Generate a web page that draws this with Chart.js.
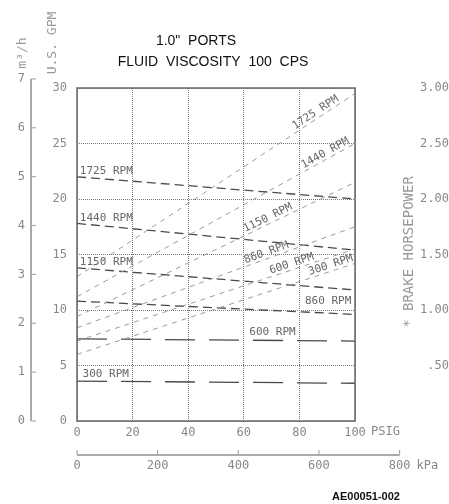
<!DOCTYPE html>
<html>
<head>
<meta charset="utf-8">
<script src="https://cdn.jsdelivr.net/npm/chart.js@4.4.1/dist/chart.umd.min.js"></script>
<style>
  html, body { margin: 0; padding: 0; background: #fff; }
  canvas { display: block; }
</style>
</head>
<body>
<canvas id="pumpChart" width="449" height="504"></canvas>
<script>
// pressure points (PSIG)
const pressure = [0, 100];
const rpm = ['1725', '1440', '1150', '860', '600', '300'];

// capacity, U.S. GPM
const flow1725 = [22.0, 20.0];
const flow1440 = [17.8, 15.4];
const flow1150 = [13.8, 11.8];
const flow860 = [10.8, 9.6];
const flow600 = [7.4, 7.2];
const flow300 = [3.6, 3.4];

// brake horsepower
const bhp1725 = [1.30, 2.95];
const bhp1440 = [1.12, 2.50];
const bhp1150 = [0.94, 2.15];
const bhp860 = [0.84, 1.75];
const bhp600 = [0.72, 1.55];
const bhp300 = [0.60, 1.42];

// axis ticks
const psiTicks = [0, 20, 40, 60, 80, 100];
const kpaTicks = [0, 200, 400, 600, 800];
const m3hTicks = [0, 1, 2, 3, 4, 5, 6, 7];

const GPM_PER_M3H = 4.40287;
const KPA_PER_PSI = 6.89476;

const MONO = "'DejaVu Sans Mono', monospace";
const SANS = "'Liberation Sans', Arial, sans-serif";

const flows = [flow1725, flow1440, flow1150, flow860, flow600, flow300];
const bhps = [bhp1725, bhp1440, bhp1150, bhp860, bhp600, bhp300];

function toPoints(arr) {
    return pressure.map((p, i) => ({ x: p, y: arr[i] }));
}

// value of a straight curve at a given pressure (for label placement only)
function valueAt(arr, psi) {
    const t = (psi - pressure[0]) / (pressure[1] - pressure[0]);
    return arr[0] + (arr[1] - arr[0]) * t;
}

const datasets = [];
bhps.forEach((arr, i) => {
    datasets.push({
        label: rpm[i] + ' RPM BHP',
        data: toPoints(arr),
        yAxisID: 'hp',
        borderColor: '#9a9a9a',
        borderWidth: 1,
        borderDash: [5, 5]
    });
});
flows.forEach((arr, i) => {
    datasets.push({
        label: rpm[i] + ' RPM GPM',
        data: toPoints(arr),
        yAxisID: 'y',
        borderColor: '#4a4a4a',
        borderWidth: 1.3,
        borderDash: i >= 4 ? [30, 14] : [9, 5]
    });
});

/**
 * extra axes (m3/h, kPa), frame, titles and curve labels
 */
const extraAxes = {
    id: 'extraAxes',
    afterDraw(chart, args, opts) {
        const { ctx, chartArea: a, scales: { x, y, hp } } = chart;
        ctx.save();

        // plot frame
        ctx.strokeStyle = '#666';
        ctx.lineWidth = 1.5;
        ctx.strokeRect(a.left, a.top, a.right - a.left, a.bottom - a.top);

        // m3/h axis on the far left
        const ax = 31;
        ctx.strokeStyle = '#aaa';
        ctx.lineWidth = 2;
        ctx.beginPath();
        ctx.moveTo(ax, y.getPixelForValue(m3hTicks[m3hTicks.length - 1] * GPM_PER_M3H));
        ctx.lineTo(ax, y.getPixelForValue(0));
        ctx.stroke();
        ctx.lineWidth = 1.2;
        ctx.fillStyle = '#888';
        ctx.font = '12px ' + MONO;
        ctx.textAlign = 'right';
        ctx.textBaseline = 'middle';
        m3hTicks.forEach(v => {
            const py = y.getPixelForValue(v * GPM_PER_M3H);
            ctx.beginPath();
            ctx.moveTo(ax, py);
            ctx.lineTo(ax + 5, py);
            ctx.stroke();
            ctx.fillText(String(v), ax - 6, py);
        });

        // kPa axis below
        const ay = 455;
        ctx.lineWidth = 2;
        ctx.beginPath();
        ctx.moveTo(x.getPixelForValue(0), ay);
        ctx.lineTo(x.getPixelForValue(kpaTicks[kpaTicks.length - 1] / KPA_PER_PSI), ay);
        ctx.stroke();
        ctx.lineWidth = 1.2;
        ctx.textAlign = 'center';
        kpaTicks.forEach(v => {
            const px = x.getPixelForValue(v / KPA_PER_PSI);
            ctx.beginPath();
            ctx.moveTo(px, ay);
            ctx.lineTo(px, ay - 5);
            ctx.stroke();
            ctx.fillText(String(v), px, ay + 11);
        });
        ctx.textAlign = 'left';
        ctx.fillText('kPa', x.getPixelForValue(kpaTicks[kpaTicks.length - 1] / KPA_PER_PSI) + 17, ay + 11);
        ctx.fillText('PSIG', x.getPixelForValue(100) + 16, a.bottom + 11);

        // rotated axis titles
        ctx.font = '13px ' + MONO;
        ctx.fillStyle = '#999';
        ctx.textAlign = 'center';
        [['U.S. GPM', 53, 43], ['m\u00b3/h', 23, 53], ['* BRAKE HORSEPOWER', 409, 252]].forEach(([t, tx, ty], i) => {
            ctx.save();
            ctx.translate(tx, ty);
            ctx.rotate(-Math.PI / 2);
            if (i === 2) ctx.font = '14px ' + MONO;
            ctx.fillText(t, 0, 0);
            ctx.restore();
        });

        // title
        ctx.fillStyle = '#111';
        ctx.font = '14px ' + SANS;
        ctx.fillText('1.0"  PORTS', 196, 41);
        ctx.fillText('FLUID  VISCOSITY  100  CPS', 213, 62);

        // footer
        ctx.font = 'bold 11px ' + SANS;
        ctx.fillText('AE00051-002', 366, 497);

        // curve labels
        ctx.font = '11px ' + MONO;
        ctx.fillStyle = '#666';
        ctx.textAlign = 'left';
        ctx.textBaseline = 'alphabetic';
        flows.forEach((arr, i) => {
            const psi = opts.flowLabelAt[i];
            const px = x.getPixelForValue(psi);
            const py = y.getPixelForValue(valueAt(arr, psi));
            ctx.fillText(rpm[i] + ' RPM', px, py - opts.flowGap[i]);
        });
        bhps.forEach((arr, i) => {
            const psi = opts.bhpLabelAt[i];
            const px = x.getPixelForValue(psi);
            const py = hp.getPixelForValue(valueAt(arr, psi));
            const ang = Math.atan2(hp.getPixelForValue(arr[1]) - hp.getPixelForValue(arr[0]),
                x.getPixelForValue(pressure[1]) - x.getPixelForValue(pressure[0]));
            ctx.save();
            ctx.translate(px, py);
            ctx.rotate(ang);
            ctx.fillText(rpm[i] + ' RPM', 0, -3);
            ctx.restore();
        });

        ctx.restore();
    }
};

const tickFont = { family: MONO, size: 12 };

new Chart(document.getElementById('pumpChart'), {
    type: 'line',
    data: { datasets },
    options: {
        responsive: false,
        animation: false,
        layout: { padding: { top: 88, bottom: 53, left: 0, right: 0 } },
        elements: { point: { radius: 0 }, line: { tension: 0 } },
        plugins: {
            legend: { display: false },
            tooltip: { enabled: false },
            extraAxes: {
                flowLabelAt: [1, 1, 1, 82, 62, 2],
                flowGap: [3, 3, 3, 8, 5, 4],
                bhpLabelAt: [79, 82, 61, 61, 70, 84]
            }
        },
        scales: {
            x: {
                type: 'linear',
                min: 0,
                max: 100,
                afterFit: s => { s.height = 30; },
                afterBuildTicks: s => { s.ticks = psiTicks.map(v => ({ value: v })); },
                grid: { color: '#777', drawTicks: false },
                border: { display: false, dash: [1, 1] },
                ticks: { padding: 5, color: '#888', font: tickFont, autoSkip: false, maxRotation: 0 }
            },
            y: {
                position: 'left',
                min: 0,
                max: 30,
                afterFit: s => { s.width = 77; },
                grid: { color: '#777', drawTicks: false },
                border: { display: false, dash: [1, 1] },
                ticks: { stepSize: 5, padding: 10, color: '#888', font: tickFont }
            },
            hp: {
                position: 'right',
                min: 0,
                max: 3,
                afterFit: s => { s.width = 94; },
                grid: { display: false, drawTicks: false },
                border: { display: false },
                ticks: {
                    stepSize: 0.5,
                    padding: 7,
                    crossAlign: 'far',
                    color: '#888',
                    font: tickFont,
                    callback: v => v === 0 ? '' : v.toFixed(2).replace(/^0/, '')
                }
            }
        }
    },
    plugins: [extraAxes]
});
</script>
</body>
</html>
